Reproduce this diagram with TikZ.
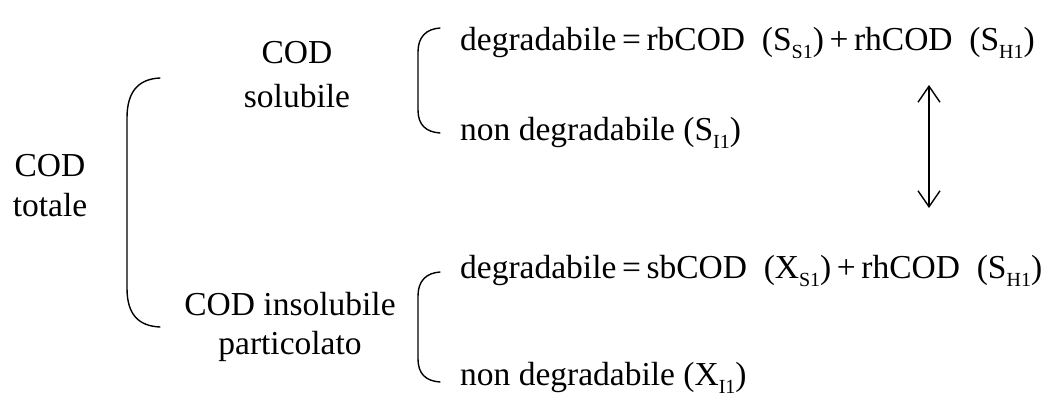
\documentclass[tikz,border=0pt]{standalone}
\usepackage{fontspec}
\setmainfont{Liberation Serif}
\usetikzlibrary{arrows.meta}
\newcommand{\lowtxt}[1]{\raisebox{-0.26em}{\fontsize{20}{20}\selectfont #1}}
\begin{document}
\begin{tikzpicture}[x=1pt,y=-1pt,
  txt/.style={inner sep=0pt,font=\fontsize{33.5}{40}\selectfont},
  brk/.style={line width=1.4pt,line cap=round},
  dbl/.style={line width=1.4pt,{Straight Barb[length=16pt,width=22pt,line width=1.4pt]}-{Straight Barb[length=16pt,width=22pt,line width=1.4pt]}}]
\useasboundingbox (0,0) rectangle (1042,400);
% left labels
\node[txt,anchor=base] (tot1) at (50,176) {COD};
\node[txt,anchor=base] (tot2) at (50,216) {totale};
\node[txt,anchor=base] (sol1) at (297,63) {COD};
\node[txt,anchor=base] (sol2) at (297,107) {solubile};
\node[txt,anchor=base] (ins1) at (290,315) {COD insolubile};
\node[txt,anchor=base] (ins2) at (290,354) {particolato};
% right lines
\node[txt,anchor=base west] (d1) at (460,50) {degradabile\,=\,rbCOD\ \ (S\lowtxt{S1})\,+\,rhCOD\ \ (S\lowtxt{H1})};
\node[txt,anchor=base west] (n1) at (460,140) {non degradabile (S\lowtxt{I1})};
\node[txt,anchor=base west] (d2) at (460,278) {degradabile\,=\,sbCOD\ \ (X\lowtxt{S1})\,+\,rhCOD\ \ (S\lowtxt{H1})};
\node[txt,anchor=base west] (n2) at (460,385) {non degradabile (X\lowtxt{I1})};
% brackets
\draw[brk] (160,78) .. controls (138,79) and (127,92) .. (127,118) -- (127,288) .. controls (127,314) and (138,326) .. (160,327);
\draw[brk] (440,28) .. controls (426,29) and (418,37) .. (418,52) -- (418,110) .. controls (418,125) and (426,132) .. (440,133);
\draw[brk] (440,272) .. controls (426,273) and (418,281) .. (418,296) -- (418,359) .. controls (418,374) and (426,381) .. (440,382);
% arrow
\coordinate (a1) at (929,85);
\coordinate (a2) at (929,208);
\draw[dbl] (a1) -- (a2);
\end{tikzpicture}
\end{document}
